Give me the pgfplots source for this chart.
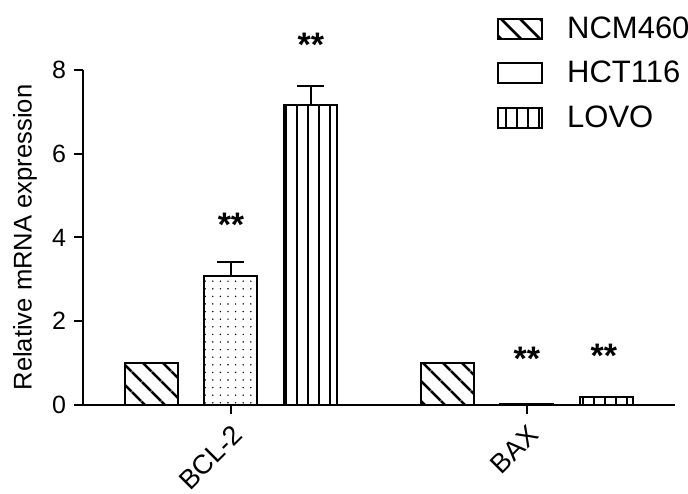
\documentclass[border=0pt]{standalone}
\usepackage{fontspec}
\setmainfont{Liberation Sans}
\usepackage{pgfplots}
\pgfplotsset{compat=1.18}
\usetikzlibrary{patterns.meta}
\tikzset{
  pNCM/.style={pattern={Lines[angle=-45,distance=6.9pt,line width=1.4pt]}},
  pHCT/.style={pattern={Dots[distance=3.8pt,radius=0.4pt]}},
  pLOVO/.style={pattern={Lines[angle=90,distance=5.5pt,line width=0.6pt]}},
}
\begin{document}
\begin{tikzpicture}
\begin{axis}[
  scale only axis,
  width=296pt, height=167.5pt,
  xmin=-0.5, xmax=1.5, ymin=0, ymax=8,
  axis x line=bottom, axis y line=left,
  axis line style={-, line width=1pt},
  clip=false,
  xtick={0,1}, xticklabels={BCL-2,BAX},
  ytick={0,2,4,6,8},
  tick align=outside,
  major tick length=4.5pt,
  tick style={line width=1pt, black},
  /pgf/number format/assume math mode=true,
  yticklabel style={font=\fontsize{12.5}{14}\selectfont, xshift=-0.5pt},
  xticklabel style={rotate=45, anchor=north east, font=\fontsize{13.5}{15}\selectfont},
  ylabel={Relative mRNA expression},
  ylabel style={at={(rel axis cs:-0.098,0.5)}, anchor=center, font=\fontsize{12.8}{14}\selectfont},
  legend style={at={(rel axis cs:0.699,1.173)}, anchor=north west, draw=none, fill=none,
    font=\fontsize{15.5}{18}\selectfont, inner sep=0pt, row sep=6pt,
    /tikz/every odd column/.append style={column sep=10pt}},
  legend cell align=left,
  bar width=26.5pt,
]
\addplot[ybar, bar shift=0pt, draw=black, line width=1pt, pNCM, forget plot]
  coordinates {(-0.27,1) (0.73,1)};
\addplot[ybar, bar shift=0pt, draw=black, line width=1pt, pHCT, forget plot]
  coordinates {(0,3.08) (1,0.03)};
\addplot[ybar, bar shift=0pt, draw=black, line width=1pt, pLOVO, forget plot]
  coordinates {(0.27,7.16) (1.27,0.19)};
% error bars (upper only)
\addplot[draw=none, mark=none, forget plot,
  error bars/.cd, y dir=plus, y explicit,
  error bar style={line width=1pt, black},
  error mark options={rotate=90, mark size=6.75pt, line width=1pt, black}]
  coordinates {(0,3.08) +- (0,0.33) (0.27,7.16) +- (0,0.46)};

\addlegendimage{legend image code/.code={\draw[line width=1pt, pNCM] (0pt,-5pt) rectangle (22pt,5pt);}}
\addlegendentry{NCM460}
\addlegendimage{legend image code/.code={\draw[line width=1pt] (0pt,-5pt) rectangle (22pt,5pt);}}
\addlegendentry{HCT116}
\addlegendimage{legend image code/.code={\draw[line width=1pt, pLOVO] (0pt,-5pt) rectangle (22pt,5pt);}}
\addlegendentry{LOVO}

\node[font=\fontsize{17}{20}\selectfont\bfseries, inner sep=0pt] at (axis cs:0,4.3) {**};
\node[font=\fontsize{17}{20}\selectfont\bfseries, inner sep=0pt] at (axis cs:0.27,8.6) {**};
\node[font=\fontsize{17}{20}\selectfont\bfseries, inner sep=0pt] at (axis cs:1.0,1.1) {**};
\node[font=\fontsize{17}{20}\selectfont\bfseries, inner sep=0pt] at (axis cs:1.26,1.17) {**};

\coordinate (bbl) at (rel axis cs:-0.1402,-0.2657);
\coordinate (btr) at (rel axis cs:1.022,1.209);
\end{axis}
\pgfresetboundingbox
\path (bbl) rectangle (btr);
\end{tikzpicture}
\end{document}
